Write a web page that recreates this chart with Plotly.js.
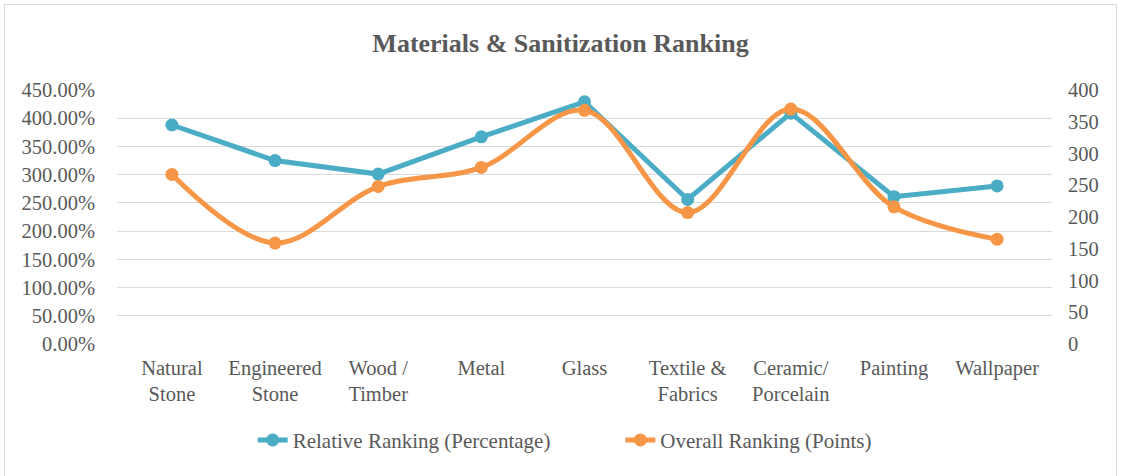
<!DOCTYPE html>
<html><head><meta charset="utf-8">
<script src="https://cdn.plot.ly/plotly-3.0.1.min.js"></script>
<style>
html,body{margin:0;padding:0;background:#fff;}
#frame{position:absolute;left:4px;top:4px;width:1113px;height:480px;border:1px solid #d9d9d9;box-sizing:border-box;}
#chart{position:absolute;left:0;top:0;width:1121px;height:476px;}
</style></head>
<body><div id="frame"></div><div id="chart"></div>
<script>
const categories = ["Natural<br>Stone","Engineered<br>Stone","Wood /<br>Timber","Metal","Glass","Textile &<br>Fabrics","Ceramic/<br>Porcelain","Painting","Wallpaper"];
const relativePct = [3.88, 3.25, 3.01, 3.67, 4.29, 2.56, 4.09, 2.61, 2.80];
const overallPts = [267, 159, 248, 278, 368, 207, 370, 216, 165];
const leftTicks = [0, 0.5, 1, 1.5, 2, 2.5, 3, 3.5, 4, 4.5];
const rightTicks = [0, 50, 100, 150, 200, 250, 300, 350, 400];

const fam = "Liberation Serif, Times New Roman, serif";
const font = {family: fam, size: 20.5, color: "#595959"};
const legFont = {family: fam, size: 21, color: "#595959"};
const traces = [
  {x: categories, y: relativePct, name: "Relative Ranking (Percentage)", type: "scatter", mode: "lines+markers",
   line: {color: "#4BACC6", width: 5}, marker: {color: "#4BACC6", size: 13}, yaxis: "y", legend: "legend"},
  {x: categories, y: overallPts, name: "Overall Ranking (Points)", type: "scatter", mode: "lines+markers",
   line: {color: "#F79646", width: 5, shape: "spline", smoothing: 1}, marker: {color: "#F79646", size: 13}, yaxis: "y2", legend: "legend2"}
];
const layout = {
  width: 1121, height: 476,
  paper_bgcolor: "rgba(0,0,0,0)", plot_bgcolor: "rgba(0,0,0,0)",
  margin: {l: 117, r: 69, t: 90, b: 132},
  font: font,
  title: {text: "<b>Materials & Sanitization Ranking</b>", font: {family: fam, size: 26, color: "#595959"}, x: 0.5, xanchor: "center", y: 0.91, yanchor: "middle"},
  showlegend: true,
  legend: {orientation: "h", xref: "container", yref: "container", x: 0.2254, xanchor: "left", y: 0.075, yanchor: "middle", font: legFont},
  legend2: {orientation: "h", xref: "container", yref: "container", x: 0.5534, xanchor: "left", y: 0.075, yanchor: "middle", font: legFont},
  xaxis: {type: "category", showgrid: false, zeroline: false, showline: false, ticks: "", tickfont: font, ticklabelstandoff: 9, tickangle: 0, fixedrange: true},
  yaxis: {range: [0, 4.5], tickvals: leftTicks, tickformat: ".2%", showgrid: true, gridcolor: "#d9d9d9", gridwidth: 1, zeroline: false, showline: false, ticks: "", tickfont: font, ticklabelstandoff: 21},
  yaxis2: {range: [0, 400], tickvals: rightTicks, overlaying: "y", side: "right", showgrid: false, zeroline: false, showline: false, ticks: "", tickfont: font, ticklabelstandoff: 15}
};
Plotly.newPlot("chart", traces, layout, {displayModeBar: false, staticPlot: true});
</script></body></html>
